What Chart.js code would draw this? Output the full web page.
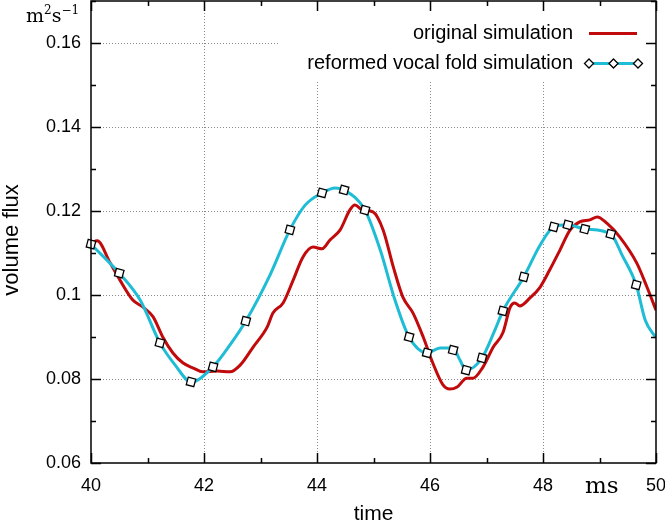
<!DOCTYPE html>
<html>
<head>
<meta charset="utf-8">
<script src="https://cdn.jsdelivr.net/npm/chart.js@4.4.1/dist/chart.umd.min.js"></script>
<style>
  html, body { margin: 0; padding: 0; background: #fff; }
  #wrap { width: 665px; height: 522px; }
</style>
</head>
<body>
<div id="wrap"><canvas id="myChart"></canvas></div>
<script>
// original simulation (red)
var timeOrig = [40.0, 40.11, 40.34, 40.51, 40.74, 40.92, 41.10, 41.27, 41.45, 41.63, 41.81, 41.98,
    42.23, 42.46, 42.64, 42.87, 43.12, 43.22, 43.40, 43.58, 43.75, 43.93, 44.09, 44.23, 44.41,
    44.58, 44.67, 44.81, 44.99, 45.17, 45.35, 45.52, 45.70, 45.88, 46.05, 46.23, 46.35, 46.48,
    46.65, 46.76, 46.94, 47.12, 47.29, 47.42, 47.50, 47.59, 47.77, 47.95, 48.12, 48.30, 48.48,
    48.65, 48.83, 48.96, 49.13, 49.36, 49.66, 49.84, 50.0];
var fluxOrig = [0.1124, 0.1129, 0.1076, 0.1036, 0.0988, 0.0971, 0.0948, 0.0900, 0.0862, 0.0838, 0.0826, 0.0817,
    0.0819, 0.0817, 0.0833, 0.0876, 0.0924, 0.0957, 0.0981, 0.1036, 0.1090, 0.1114, 0.1110, 0.1131, 0.1155,
    0.1202, 0.1214, 0.1202, 0.1198, 0.1155, 0.1067, 0.0995, 0.0957, 0.0900, 0.0838, 0.0786, 0.0776, 0.0781,
    0.0802, 0.0802, 0.0829, 0.0876, 0.0910, 0.0971, 0.0981, 0.0974, 0.0993, 0.1019, 0.1060, 0.1107, 0.1155,
    0.1174, 0.1179, 0.1186, 0.1171, 0.1138, 0.1076, 0.1019, 0.0964];

// reformed vocal fold simulation (cyan line)
var timeReform = [40.0, 40.50, 40.87, 41.22, 41.49, 41.77, 42.16, 42.46, 42.74, 43.17, 43.52, 43.79,
    44.09, 44.32, 44.48, 44.85, 45.12, 45.38, 45.63, 45.95, 46.18, 46.41, 46.53, 46.64, 46.92,
    47.15, 47.29, 47.66, 47.95, 48.19, 48.44, 48.74, 49.20, 49.40, 49.65, 49.81, 50.0];
var fluxReform = [0.1121, 0.1052, 0.0988, 0.0886, 0.0833, 0.0793, 0.0829, 0.0881, 0.0938, 0.1048, 0.1155, 0.1214,
    0.1243, 0.1255, 0.1250, 0.1202, 0.1107, 0.0988, 0.0900, 0.0862, 0.0874, 0.0874, 0.0845, 0.0821, 0.0850,
    0.0917, 0.0962, 0.1043, 0.1119, 0.1162, 0.1167, 0.1157, 0.1145, 0.1095, 0.1024, 0.0940, 0.0898];

// sampled markers on the reformed curve
var timeMarks = [40.0, 40.50, 41.22, 41.77, 42.16, 42.74, 43.52, 44.09, 44.48, 44.85, 45.63, 45.95,
    46.41, 46.64, 46.92, 47.29, 47.66, 48.19, 48.44, 48.74, 49.20, 49.65];
var fluxMarks = [0.1121, 0.1052, 0.0886, 0.0793, 0.0829, 0.0938, 0.1155, 0.1243, 0.1250, 0.1202, 0.0900, 0.0862,
    0.0869, 0.0821, 0.0850, 0.0962, 0.1043, 0.1162, 0.1167, 0.1157, 0.1145, 0.1024];

var legendLabels = ['original simulation', 'reformed vocal fold simulation'];

var RED = '#c00a0c';
var CYAN = '#1fbcd5';
var SANS = "'Liberation Sans', Arial, sans-serif";
var SERIF = "'DejaVu Serif', 'Liberation Serif', serif";

function pts(xs, ys) {
    var out = [];
    for (var i = 0; i < xs.length; i++) out.push({x: xs[i], y: ys[i]});
    return out;
}

function noPad(s) {
    s.paddingTop = 0; s.paddingBottom = 0;
    s.paddingLeft = 0; s.paddingRight = 0;
}

var frame = {
    id: 'frame',
    beforeDatasetsDraw: function(chart) {
        var ctx = chart.ctx, a = chart.chartArea;
        var xs = chart.scales.x, ys = chart.scales.y;
        ctx.save();
        ctx.strokeStyle = '#8a8a8a';
        ctx.lineWidth = 1;
        ctx.setLineDash([1, 2]);
        xs.ticks.forEach(function(t) {
            if (t.value <= 40 || t.value >= 50) return;
            var px = Math.round(xs.getPixelForValue(t.value)) + 0.5;
            ctx.beginPath(); ctx.moveTo(px, a.top); ctx.lineTo(px, a.bottom); ctx.stroke();
        });
        ys.ticks.forEach(function(t) {
            if (t.value <= 0.0601) return;
            var py = Math.round(ys.getPixelForValue(t.value)) + 0.5;
            ctx.beginPath(); ctx.moveTo(a.left, py); ctx.lineTo(a.right, py); ctx.stroke();
        });
        ctx.setLineDash([]);
        // legend box background hides the grid
        ctx.fillStyle = '#fff';
        ctx.fillRect(280, a.top + 1, a.right - 281, 80 - a.top);
        ctx.restore();
    },
    afterDatasetsDraw: function(chart) {
        var ctx = chart.ctx, a = chart.chartArea;
        var xs = chart.scales.x, ys = chart.scales.y;
        ctx.save();
        ctx.strokeStyle = '#000';
        ctx.lineWidth = 1.5;
        ctx.beginPath();
        var v, p, len;
        for (v = 40; v <= 50; v += 1) {
            p = Math.round(xs.getPixelForValue(v)) + 0.5;
            len = (v % 2 === 0) ? 10 : 5;
            ctx.moveTo(p, a.bottom); ctx.lineTo(p, a.bottom - len);
            ctx.moveTo(p, a.top); ctx.lineTo(p, a.top + len);
        }
        for (var k = 6; k <= 17; k++) {
            v = k / 100;
            p = Math.round(ys.getPixelForValue(v)) + 0.5;
            len = (k % 2 === 0) ? 10 : 5;
            ctx.moveTo(a.left, p); ctx.lineTo(a.left + len, p);
            ctx.moveTo(a.right, p); ctx.lineTo(a.right - len, p);
        }
        ctx.stroke();
        ctx.strokeRect(a.left, a.top, a.right - a.left, a.bottom - a.top);
        ctx.restore();
    },
    afterDraw: function(chart) {
        var ctx = chart.ctx;
        ctx.save();
        // legend
        ctx.font = '20px ' + SANS;
        ctx.fillStyle = '#000';
        ctx.textAlign = 'right';
        ctx.textBaseline = 'middle';
        ctx.fillText(legendLabels[0], 573, 33);
        ctx.fillText(legendLabels[1], 573, 63);
        ctx.strokeStyle = RED;
        ctx.lineWidth = 3;
        ctx.beginPath(); ctx.moveTo(589, 33.5); ctx.lineTo(637, 33.5); ctx.stroke();
        ctx.strokeStyle = CYAN;
        ctx.beginPath(); ctx.moveTo(589, 63.5); ctx.lineTo(638, 63.5); ctx.stroke();
        [589, 613.5, 638].forEach(function(x) {
            ctx.beginPath();
            ctx.moveTo(x, 59); ctx.lineTo(x + 4.5, 63.5); ctx.lineTo(x, 68); ctx.lineTo(x - 4.5, 63.5);
            ctx.closePath();
            ctx.fillStyle = '#fff'; ctx.fill();
            ctx.strokeStyle = '#000'; ctx.lineWidth = 1.3; ctx.stroke();
        });
        // y axis title
        ctx.save();
        ctx.translate(17.5, 240);
        ctx.rotate(-Math.PI / 2);
        ctx.textAlign = 'center';
        ctx.textBaseline = 'alphabetic';
        ctx.fillStyle = '#000';
        ctx.font = '22px ' + SANS;
        ctx.fillText('volume flux', 0, 0);
        ctx.restore();
        // units
        ctx.fillStyle = '#000';
        ctx.textAlign = 'left';
        ctx.textBaseline = 'alphabetic';
        ctx.font = '19px ' + SERIF;
        var x0 = 26;
        ctx.fillText('m', x0, 22);
        x0 += ctx.measureText('m').width;
        ctx.font = '12px ' + SERIF;
        ctx.fillText('2', x0, 14);
        x0 += ctx.measureText('2').width;
        ctx.font = '19px ' + SERIF;
        ctx.fillText('s', x0, 22);
        x0 += ctx.measureText('s').width;
        ctx.font = '12px ' + SERIF;
        ctx.fillText('\u22121', x0, 14);
        ctx.font = '23px ' + SERIF;
        ctx.fillText('ms', 585, 493);
        ctx.restore();
    }
};

var ctx = document.getElementById('myChart');
var myChart = new Chart(ctx, {
    type: 'line',
    data: {
        datasets: [
            {
                label: 'markers',
                data: pts(timeMarks, fluxMarks),
                showLine: false,
                pointStyle: 'rect',
                pointRotation: 15,
                pointRadius: 5.5,
                pointBackgroundColor: '#fff',
                pointBorderColor: '#000',
                pointBorderWidth: 1.3,
                clip: false
            },
            {
                label: legendLabels[1],
                data: pts(timeReform, fluxReform),
                borderColor: CYAN,
                borderWidth: 3,
                pointRadius: 0,
                cubicInterpolationMode: 'monotone',
                fill: false
            },
            {
                label: legendLabels[0],
                data: pts(timeOrig, fluxOrig),
                borderColor: RED,
                borderWidth: 3,
                pointRadius: 0,
                cubicInterpolationMode: 'monotone',
                fill: false
            }
        ]
    },
    options: {
        responsive: true,
        maintainAspectRatio: false,
        animation: false,
        layout: { autoPadding: false, padding: { top: 1, right: 9, left: 0, bottom: 0 } },
        plugins: { legend: { display: false }, tooltip: { enabled: false } },
        scales: {
            x: {
                type: 'linear',
                min: 40, max: 50,
                grid: { display: false, drawTicks: false },
                border: { display: false },
                ticks: { stepSize: 2, color: '#000', padding: 12, maxRotation: 0,
                    font: { family: SANS, size: 18 } },
                title: { display: true, text: 'time', color: '#000', padding: 0,
                    font: { family: SANS, size: 21, lineHeight: 0.75 } },
                afterFit: function(s) { s.height = 59; noPad(s); }
            },
            y: {
                type: 'linear',
                min: 0.06, max: 0.17,
                grid: { display: false, drawTicks: false },
                border: { display: false },
                ticks: { stepSize: 0.02, includeBounds: false, color: '#000', padding: 10,
                    font: { family: SANS, size: 18 },
                    callback: function(v) { return String(+v.toFixed(2)); } },
                title: { display: false },
                afterFit: function(s) { s.width = 91; noPad(s); }
            }
        }
    },
    plugins: [frame]
});
</script>
</body>
</html>
